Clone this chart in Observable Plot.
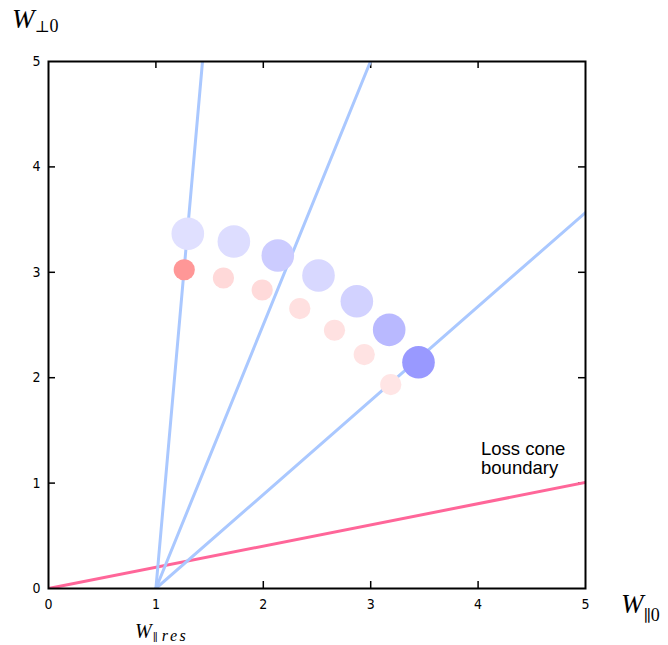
<!DOCTYPE html>
<html><head><meta charset="utf-8">
<script src="https://cdn.jsdelivr.net/npm/d3@7"></script>
<script src="https://cdn.jsdelivr.net/npm/@observablehq/plot@0.6"></script>
<style>body{margin:0;background:#fff}</style>
</head><body><div id="chart"></div>
<script>
// ---- data ----
const axisTicks = [0, 1, 2, 3, 4, 5];
const innerTicks = [1, 2, 3, 4];
const tickLabels = ["0", "1", "2", "3", "4", "5"];

// large (blue) circles
const blueX = [1.297, 1.726, 2.135, 2.514, 2.871, 3.172, 3.445];
const blueY = [3.366, 3.292, 3.159, 2.970, 2.726, 2.454, 2.147];
const blueW = [0.30, 0.33, 0.50, 0.38, 0.44, 0.69, 1.00];
// small (red) circles
const redX = [1.264, 1.629, 1.990, 2.340, 2.663, 2.940, 3.187];
const redY = [3.024, 2.946, 2.832, 2.656, 2.450, 2.219, 1.935];
const redW = [1.00, 0.37, 0.36, 0.30, 0.29, 0.27, 0.25];

// resonance fan lines from (W||res, 0)
const resX = 1;
const fanEndX = [1.434, 2.998, 5.0];
const fanEndY = [5.0, 5.0, 3.567];
// loss cone boundary
const lossX = [0, 5];
const lossY = [0, 1.006];

// ---- build tables ----
const blue = blueX.map((x, i) => ({x, y: blueY[i], w: blueW[i]}));
const red = redX.map((x, i) => ({x, y: redY[i], w: redW[i]}));
const fan = fanEndX.flatMap((x, i) => [{id: i, x: resX, y: 0}, {id: i, x, y: fanEndY[i]}]);
const loss = lossX.map((x, i) => ({x, y: lossY[i]}));

const W = 668, H = 645, mL = 48, mR = 83, mT = 61, mB = 57;
const tickLen = 7;
const innerH = H - mT - mB, innerW = W - mL - mR;
const blueCol = d3.interpolateRgb("#ffffff", "#9999ff");
const redCol = d3.interpolateRgb("#ffffff", "#ff9797");
const tickFont = "'Liberation Sans Narrow', 'DejaVu Sans Condensed', 'Liberation Sans', sans-serif";

const plot = Plot.plot({
  width: W, height: H,
  marginLeft: mL, marginRight: mR, marginTop: mT, marginBottom: mB,
  x: {domain: [0, 5]},
  y: {domain: [0, 5]},
  style: {fontFamily: tickFont, fontSize: "14px", color: "#000", background: "#fff"},
  marks: [
    Plot.axisX(axisTicks, {anchor: "bottom", tickSize: 0, tickPadding: 11, tickFormat: (d, i) => tickLabels[i], label: null, fontSize: 14}),
    Plot.axisY(axisTicks, {anchor: "left", tickSize: 0, tickPadding: 8, tickFormat: (d, i) => tickLabels[i], label: null, fontSize: 14}),
    Plot.tickX(innerTicks, {x: d => d, insetTop: innerH - tickLen, stroke: "#000", strokeWidth: 1.5}),
    Plot.tickX(innerTicks, {x: d => d, insetBottom: innerH - tickLen, stroke: "#000", strokeWidth: 1.5}),
    Plot.tickY(innerTicks, {y: d => d, insetRight: innerW - tickLen, stroke: "#000", strokeWidth: 1.5}),
    Plot.tickY(innerTicks, {y: d => d, insetLeft: innerW - tickLen, stroke: "#000", strokeWidth: 1.5}),
    Plot.line(loss, {x: "x", y: "y", stroke: "#ff6699", strokeWidth: 3, clip: true}),
    Plot.line(fan, {x: "x", y: "y", z: "id", stroke: "#aac8ff", strokeWidth: 3, clip: true}),
    Plot.dot(blue, {x: "x", y: "y", r: 16.3, fill: d => blueCol(d.w), stroke: null}),
    Plot.dot(red, {x: "x", y: "y", r: 10.6, fill: d => redCol(d.w), stroke: null}),
    Plot.frame({stroke: "#000", strokeWidth: 2})
  ]
});
document.getElementById("chart").appendChild(plot);

// ---- annotations with subscripts, placed via the plot's scales ----
const sx = v => plot.scale("x").apply(v);
const sy = v => plot.scale("y").apply(v);
const svg = d3.select(plot);
const serif = "'Liberation Serif', 'DejaVu Serif', serif";
const sym = "'DejaVu Serif', 'Liberation Serif', serif";

function mathLabel(x, y, wSize, subDy, sub) {
  const t = svg.append("text").attr("x", sx(x)).attr("y", sy(y))
    .attr("text-anchor", "start")
    .attr("font-family", serif).attr("fill", "#000");
  t.append("tspan").attr("font-style", "italic").attr("font-size", wSize).text("W");
  sub.forEach((s, i) => {
    const ts = t.append("tspan").attr("font-size", s.size)
      .attr("font-family", s.font || serif)
      .attr("font-style", s.italic ? "italic" : "normal").text(s.t);
    if (s.ls) ts.attr("letter-spacing", s.ls);
    if (s.dx) ts.attr("dx", s.dx);
    if (i === 0) ts.attr("dy", subDy);
  });
}
mathLabel(-0.335, 5.313, 27, 4, [{t: "⊥", font: sym, size: 16}, {t: "0", size: 18}]);
mathLabel(5.335, -0.237, 27, 8, [{t: "∥", font: sym, size: 16}, {t: "0", size: 18}]);
mathLabel(0.81, -0.474, 20, 3, [{t: "∥", font: sym, size: 11, dx: 1}, {t: "res", italic: true, size: 16, ls: 2.5, dx: 4}]);

const lc = svg.append("text").attr("font-family", "'Liberation Sans', Arial, sans-serif")
  .attr("text-anchor", "start")
  .attr("font-size", 18.5).attr("fill", "#000");
lc.append("tspan").attr("x", sx(4.032)).attr("y", sy(1.262)).text("Loss cone");
lc.append("tspan").attr("x", sx(4.032)).attr("y", sy(1.082)).text("boundary");
</script>
</body></html>
